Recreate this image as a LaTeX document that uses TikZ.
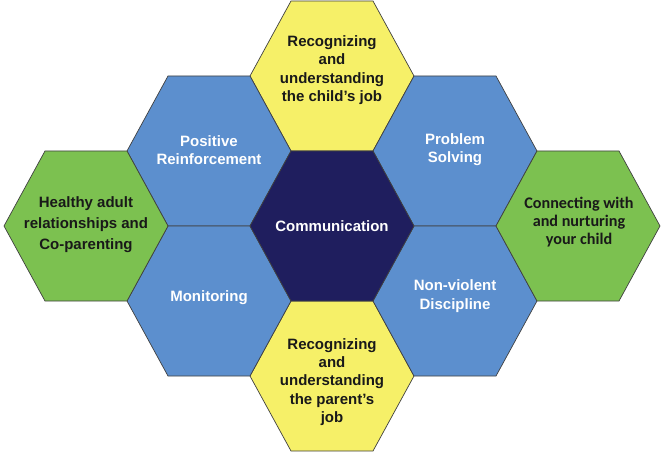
\documentclass[tikz,border=0pt]{standalone}
\usepackage{fontspec}
\setmainfont{Liberation Sans}
\newfontfamily\calibrifont{Carlito}
\usepackage{tikz}
\usetikzlibrary{calc,positioning}
\definecolor{hexblue}{RGB}{92,143,206}
\definecolor{hexyellow}{RGB}{246,240,104}
\definecolor{hexgreen}{RGB}{124,193,80}
\definecolor{hexnavy}{RGB}{31,30,94}
\tikzstyle{hexline}   = [draw=black!75, line width=0.6pt, line join=miter]
\tikzstyle{hextext}   = [align=center, font=\fontsize{12.8}{15.6}\selectfont\bfseries]
\tikzstyle{darktext}  = [hextext, text=black!90]
\tikzstyle{lighttext} = [hextext, text=white]

\begin{document}
\begin{tikzpicture}[x=0.03cm, y=-0.03cm]
        \useasboundingbox (0,0) rectangle (664,453);
        % the honeycomb
        \foreach \cx/\cy/\col in {332/76/hexyellow, 332/376/hexyellow,
                                  209/151/hexblue, 209/301/hexblue,
                                  455/151/hexblue, 455/301/hexblue,
                                  86/226/hexgreen, 578/226/hexgreen,
                                  332/226/hexnavy}
            \draw[hexline, fill=\col] (\cx,\cy) +(-82,0) -- +(-41,-75) -- +(41,-75)
                -- +(82,0) -- +(41,75) -- +(-41,75) -- cycle;

        \node[lighttext] (comm) at (332,226) {Communication};
        \node[darktext] (childjob) at (332,70) {Recognizing\\and\\understanding\\the child’s job};
        \node[darktext] (parentjob) at (332,382) {Recognizing\\and\\understanding\\the parent’s\\job};
        \node[lighttext] (reinforce) at (209,150) {Positive\\Reinforcement};
        \node[lighttext] (monitor) at (209,298) {Monitoring};
        \node[lighttext] (problem) at (455,150) {Problem\\Solving};
        \node[lighttext] (discipline) at (455,296) {Non-violent\\Discipline};
        \node[darktext, font=\fontsize{12.8}{18}\selectfont\bfseries] (coparent) at (86,225) {Healthy adult\\relationships and\\Co-parenting};
        \node[darktext, font=\fontsize{13.8}{15.4}\selectfont\calibrifont\bfseries] (nurture) at (579,222) {Connecting with\\and nurturing\\your child};
    \end{tikzpicture}
\end{document}
